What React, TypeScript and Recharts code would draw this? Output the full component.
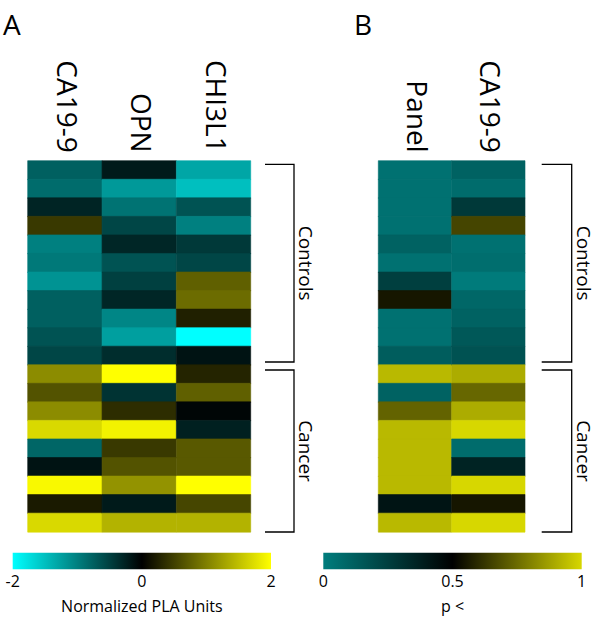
import { Area, AreaChart, Bar, BarChart, Cell, XAxis, YAxis } from 'recharts';

const FONT = '"Open Sans", "DejaVu Sans", sans-serif';

// samples: 11 controls then 9 cancer patients
const SAMPLES = [
  'N1', 'N2', 'N3', 'N4', 'N5', 'N6', 'N7', 'N8', 'N9', 'N10', 'N11',
  'P1', 'P2', 'P3', 'P4', 'P5', 'P6', 'P7', 'P8', 'P9',
];

// panel A: normalized PLA units (-2 .. 2)
const A_MARKERS = ['CA19-9', 'OPN', 'CHI3L1'];
const A_CA199 = [-0.75, -0.85, -0.28, 0.45, -1.0, -0.95, -1.15, -0.75, -0.75, -0.65, -0.55, 1.1, 0.65, 1.1, 1.7, -0.8, -0.15, 1.95, 0.2, 1.7];
const A_OPN = [-0.2, -1.2, -0.9, -0.55, -0.3, -0.65, -0.5, -0.3, -1.05, -1.25, -0.35, 2.0, -0.4, 0.35, 1.9, 0.45, 0.65, 1.15, -0.2, 1.4];
const A_CHI3L1 = [-1.3, -1.5, -0.65, -1.0, -0.45, -0.55, 0.75, 0.85, 0.25, -2.0, -0.15, 0.28, 0.75, -0.05, -0.25, 0.7, 0.7, 2.0, 0.55, 1.4];
const A_VALUES = [A_CA199, A_OPN, A_CHI3L1];
const A_TICKS = [-2, 0, 2];

// panel B: p values (0 .. 1)
const B_MARKERS = ['Panel', 'CA19-9'];
const B_PANEL = [0.05, 0.05, 0.05, 0.05, 0.11, 0.05, 0.25, 0.55, 0.05, 0.05, 0.13, 0.93, 0.11, 0.73, 0.93, 0.93, 0.93, 0.93, 0.42, 0.93];
const B_CA199 = [0.11, 0.07, 0.27, 0.66, 0.05, 0.06, 0.01, 0.09, 0.11, 0.15, 0.17, 0.9, 0.74, 0.9, 1.0, 0.07, 0.36, 1.0, 0.55, 1.0];
const B_VALUES = [B_PANEL, B_CA199];
const B_TICKS = [0, 0.5, 1];

// heatmap plot boxes
const TOP = 160.7;
const BOTTOM = 531.7;
const A_BOX = { left: 27.7, right: 250.7 };
const B_BOX = { left: 378.3, right: 525 };

const plaColor = (v: number) => {
  const c = Math.round(Math.min(1, Math.abs(v) / 2) * 255);
  return v < 0 ? `rgb(0,${c},${c})` : `rgb(${c},${c},0)`;
};

const pColor = (p: number) => {
  if (p < 0.5) {
    const c = Math.round(((0.5 - p) / 0.5) * 125);
    return `rgb(0,${c},${c})`;
  }
  const c = Math.round(((p - 0.5) / 0.5) * 215);
  return `rgb(${c},${c},0)`;
};

const buildTable = (markers: string[]) =>
  SAMPLES.map(s => {
    const row: any = { sample: s };
    markers.forEach(m => (row[m] = 1));
    return row;
  });

function Heatmap({ markers, values, colorFn, box, left }: any) {
  return (
    <div style={{ position: 'absolute', left, top: 0 }}>
      <BarChart
        width={300}
        height={540}
        data={buildTable(markers)}
        layout="vertical"
        barCategoryGap={0}
        margin={{ top: TOP, bottom: 540 - BOTTOM, left: box.left - left, right: left + 300 - box.right }}>
        <XAxis type="number" domain={[0, markers.length]} hide />
        <YAxis type="category" dataKey="sample" hide />
        {markers.map((m: string, j: number) => (
          <Bar key={m} dataKey={m} stackId="s" isAnimationActive={false}>
            {values[j].map((v: number, i: number) => (
              <Cell key={i} fill={colorFn(v)} stroke={colorFn(v)} strokeWidth={0.6} />
            ))}
          </Bar>
        ))}
      </BarChart>
    </div>
  );
}

function ColLabels({ markers, box }: any) {
  const w = (box.right - box.left) / markers.length;
  return (
    <>
      {markers.map((m: string, j: number) => (
        <text
          key={m}
          transform={`translate(${box.left + w * (j + 0.5) - 8},${TOP - 8}) rotate(90)`}
          textAnchor="end"
          fontSize={28}
          fontFamily={FONT}
          fill="#000">
          {m}
        </text>
      ))}
    </>
  );
}

function ColorBar({ id, ticks, stops, label, left, margin }: any) {
  const data = [
    { x: ticks[0], y: 1 },
    { x: ticks[ticks.length - 1], y: 1 },
  ];
  return (
    <div style={{ position: 'absolute', left, top: 540 }}>
      <AreaChart width={300} height={80} data={data} margin={margin}>
        <defs>
          <linearGradient id={id} x1="0" y1="0" x2="1" y2="0">
            {stops.map((c: string, i: number) => (
              <stop key={i} offset={i / (stops.length - 1)} stopColor={c} />
            ))}
          </linearGradient>
        </defs>
        <XAxis
          type="number"
          dataKey="x"
          domain={[ticks[0], ticks[ticks.length - 1]]}
          ticks={ticks}
          interval={0}
          tickSize={0}
          tickMargin={6}
          axisLine={false}
          height={30}
          tick={{ fontSize: 16, fill: '#000', fontFamily: FONT }}
          label={{ value: label, position: 'bottom', offset: 1, fontSize: 16, fill: '#000', fontFamily: FONT }}
        />
        <YAxis domain={[0, 1]} hide />
        <Area
          type="linear"
          dataKey="y"
          fill={`url(#${id})`}
          fillOpacity={1}
          stroke="none"
          isAnimationActive={false}
        />
      </AreaChart>
    </div>
  );
}

function Bracket({ x0, x1, y0, y1, text, textX }: any) {
  return (
    <g>
      <polyline points={`${x0},${y0} ${x1},${y0} ${x1},${y1} ${x0},${y1}`} fill="none" stroke="#000" strokeWidth={1.3} />
      <text
        transform={`translate(${textX},${(y0 + y1) / 2}) rotate(90)`}
        textAnchor="middle"
        fontSize={19}
        fontFamily={FONT}
        fill="#000">
        {text}
      </text>
    </g>
  );
}

export default function App() {
  return (
    <div style={{ position: 'absolute', left: 0, top: 0, width: 600, height: 620, background: '#fff', fontFamily: FONT }}>
      <Heatmap markers={A_MARKERS} values={A_VALUES} colorFn={plaColor} box={A_BOX} left={0} />
      <Heatmap markers={B_MARKERS} values={B_VALUES} colorFn={pColor} box={B_BOX} left={300} />
      <ColorBar
        id="gradA"
        ticks={A_TICKS}
        stops={['#00ffff', '#000000', '#ffff00']}
        label="Normalized PLA Units"
        left={0}
        margin={{ top: 12.7, left: 12.7, right: 29, bottom: 20.7 }}
      />
      <ColorBar
        id="gradB"
        ticks={B_TICKS}
        stops={['#007d7d', '#000000', '#d7d700']}
        label="p <"
        left={300}
        margin={{ top: 12.7, left: 23.3, right: 18.3, bottom: 20.7 }}
      />
      <svg width={600} height={620} style={{ position: 'absolute', left: 0, top: 0, pointerEvents: 'none' }}>
        <text x={3} y={35} fontSize={28} fontFamily={FONT} fill="#000">A</text>
        <text x={354} y={35} fontSize={28} fontFamily={FONT} fill="#000">B</text>
        <ColLabels markers={A_MARKERS} box={A_BOX} />
        <ColLabels markers={B_MARKERS} box={B_BOX} />
        <Bracket x0={265} x1={294} y0={164.3} y1={362} text="Controls" textX={299} />
        <Bracket x0={265} x1={294} y0={370} y1={532} text="Cancer" textX={299} />
        <Bracket x0={541.7} x1={571.7} y0={164.3} y1={362} text="Controls" textX={577} />
        <Bracket x0={541.7} x1={571.7} y0={370} y1={532} text="Cancer" textX={577} />
      </svg>
    </div>
  );
}
